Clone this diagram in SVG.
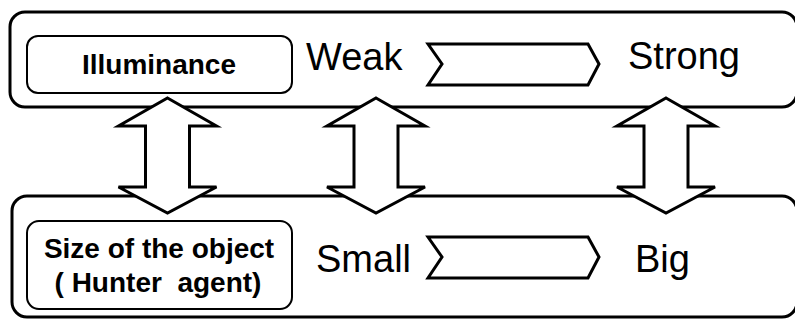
<svg xmlns="http://www.w3.org/2000/svg" width="795" height="320" viewBox="0 0 795 320">
  <style>
    .panel { fill: none; stroke: #000; stroke-width: 3; }
    .label-box { fill: #fff; stroke: #000; stroke-width: 2; }
    .label { font-family: "Liberation Sans", Arial, sans-serif; font-weight: bold; font-size: 28px; fill: #000; text-anchor: middle; }
    .value { font-family: "Liberation Sans", Arial, sans-serif; font-size: 38px; fill: #000; }
    .chevron { fill: #fff; stroke: #000; stroke-width: 3; stroke-linejoin: miter; }
    .dbl { fill: #fff; stroke: #000; stroke-width: 3; stroke-linejoin: miter; }
  </style>
  <defs>
    <!-- vertical double-headed block arrow, centred on x = 0 -->
    <path id="dbl-arrow" d="M0,98 L49,126 L22,126 L22,187 L49,187 L0,213 L-49,187 L-22,187 L-22,126 L-49,126 Z"/>
    <!-- horizontal chevron, origin at its top-left corner -->
    <path id="chev" d="M0,0 L160,0 L171,20 L160,41 L0,41 L14,20 Z"/>
  </defs>

  <rect width="795" height="320" fill="#fff"/>

  <!-- illuminance row -->
  <g id="row-illuminance">
    <rect class="panel" x="10" y="12" width="787" height="95" rx="15"/>
    <g id="node-illuminance">
      <rect class="label-box" x="27" y="36" width="265" height="57" rx="11"/>
      <text class="label" x="159" y="74">Illuminance</text>
    </g>
    <g id="node-weak"><text class="value" x="306" y="70">Weak</text></g>
    <g id="node-strong"><text class="value" x="628" y="69">Strong</text></g>
  </g>

  <!-- object size row -->
  <g id="row-size">
    <rect class="panel" x="12" y="196" width="785" height="121" rx="15"/>
    <g id="node-size">
      <rect class="label-box" x="27" y="221" width="265" height="88" rx="12"/>
      <text class="label" x="159" y="258">Size of the object</text>
      <text class="label" x="158" y="292" xml:space="preserve">( Hunter  agent)</text>
    </g>
    <g id="node-small"><text class="value" x="316" y="272">Small</text></g>
    <g id="node-big"><text class="value" x="635" y="272">Big</text></g>
  </g>

  <!-- connectors -->
  <g id="connectors">
    <use href="#chev" class="chevron" x="428" y="44"/>
    <use href="#chev" class="chevron" x="428" y="237"/>
    <use href="#dbl-arrow" class="dbl" x="167.5"/>
    <use href="#dbl-arrow" class="dbl" x="376"/>
    <use href="#dbl-arrow" class="dbl" x="666"/>
  </g>
</svg>
